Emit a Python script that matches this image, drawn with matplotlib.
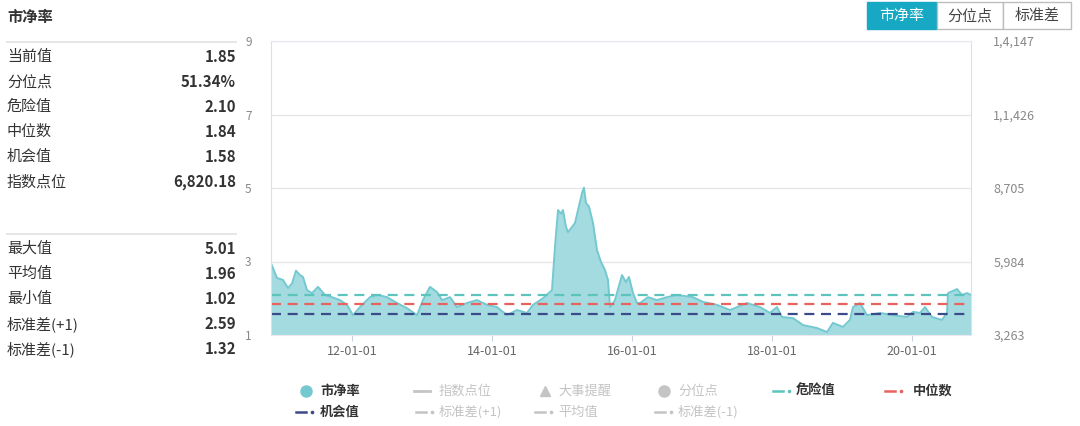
import matplotlib.pyplot as plt
import numpy as np
from matplotlib.lines import Line2D
from matplotlib.patches import Rectangle

plt.rcParams["font.family"] = ["Noto Sans CJK SC", "DejaVu Sans"]

W, H = 1080, 426

# PB series (decimal year, value)
years = [2010.843, 2010.929, 2011.014, 2011.086, 2011.143, 2011.2, 2011.257, 2011.3,
         2011.357, 2011.429, 2011.514, 2011.614, 2011.714, 2011.829, 2011.929, 2012.014,
         2012.114, 2012.257, 2012.371, 2012.5, 2012.643, 2012.786, 2012.929, 2013.014,
         2013.114, 2013.214, 2013.286, 2013.4, 2013.5, 2013.643, 2013.786, 2013.929,
         2014.071, 2014.214, 2014.357, 2014.5, 2014.586, 2014.729, 2014.857, 2014.9,
         2014.943, 2014.986, 2015.014, 2015.057, 2015.086, 2015.143, 2015.186, 2015.229,
         2015.286, 2015.314, 2015.343, 2015.386, 2015.443, 2015.5, 2015.557, 2015.614,
         2015.657, 2015.686, 2015.757, 2015.857, 2015.914, 2015.957, 2016.014, 2016.071,
         2016.114, 2016.229, 2016.357, 2016.5,
         2016.643, 2016.871, 2017.014, 2017.214, 2017.4, 2017.643, 2017.829, 2017.971,
         2018.071, 2018.143, 2018.3, 2018.443, 2018.643, 2018.786, 2018.871, 2019.014,
         2019.114, 2019.157, 2019.257, 2019.357, 2019.543, 2019.729, 2019.929, 2020.014,
         2020.114, 2020.186, 2020.286, 2020.429, 2020.5, 2020.514, 2020.643, 2020.714,
         2020.786, 2020.843]
pb = [2.95, 2.55, 2.50, 2.28, 2.40, 2.75, 2.63, 2.58,
      2.22, 2.14, 2.31, 2.09, 2.03, 1.95, 1.82, 1.54,
      1.76, 2.03, 2.09, 2.03, 1.87, 1.73, 1.54, 1.95,
      2.31, 2.17, 1.95, 2.03, 1.76, 1.87, 1.95, 1.82,
      1.76, 1.54, 1.68, 1.60, 1.82, 2.00, 2.22, 3.40,
      4.40, 4.30, 4.40, 3.94, 3.80, 3.94, 4.05, 4.40,
      4.86, 5.01, 4.59, 4.49, 4.05, 3.31, 2.99, 2.77,
      2.50, 1.76, 1.95, 2.63, 2.44, 2.58, 2.14, 1.87,
      1.87, 2.03, 1.95, 2.03,
      2.09, 2.03, 1.90, 1.82, 1.68, 1.87, 1.76, 1.60,
      1.76, 1.49, 1.46, 1.27, 1.19, 1.08, 1.33, 1.22,
      1.41, 1.76, 1.87, 1.54, 1.60, 1.54, 1.49, 1.63,
      1.60, 1.76, 1.49, 1.41, 1.60, 2.14, 2.25, 2.09,
      2.14, 2.09]

danger, median, chance = 2.10, 1.84, 1.58

left_ticks = [1, 3, 5, 7, 9]
right_ticks = [3263, 5984, 8705, 11426, 14147]
right_labels = ["3,263", "5,984", "8,705", "1,1,426", "1,4,147"]
x_ticks = [2012, 2014, 2016, 2018, 2020]
x_labels = ["12-01-01", "14-01-01", "16-01-01", "18-01-01", "20-01-01"]

stats_top = [("当前值", "1.85"), ("分位点", "51.34%"), ("危险值", "2.10"),
             ("中位数", "1.84"), ("机会值", "1.58"), ("指数点位", "6,820.18")]
stats_bottom = [("最大值", "5.01"), ("平均值", "1.96"), ("最小值", "1.02"),
                ("标准差(+1)", "2.59"), ("标准差(-1)", "1.32")]


def fx(x):
    return x / W


def fy(y):
    return 1 - y / H


fig = plt.figure(figsize=(W / 100, H / 100), dpi=100)

# ---- chart ----
ax = fig.add_axes([fx(271), fy(335), 700 / W, 294 / H])
ax.fill_between(years, pb, 0, color="#a3dbe0", lw=0)
ax.plot(years, pb, color="#74c9d1", lw=1.4)
ax.axhline(danger, color="#5cc4bc", lw=1.6, dashes=(4.5, 3))
ax.axhline(median, color="#e8635e", lw=1.6, dashes=(4.5, 3))
ax.axhline(chance, color="#3d4a8a", lw=1.6, dashes=(4.5, 3))

ax.set_xlim(2010.843, 2020.843)
ax.set_ylim(1, 9)
ax.set_yticks(left_ticks)
ax.set_xticks(x_ticks, x_labels)
for t in left_ticks[1:]:
    ax.axhline(t, color="#e6e6ea", lw=0.9, zorder=0)
ax.tick_params(axis="y", length=0, labelsize=8.5, labelcolor="#888888", pad=14)
ax.tick_params(axis="x", length=4, color="#c8d0e0", labelsize=9,
               labelcolor="#666666", pad=3)
for side in ["top", "bottom"]:
    ax.spines[side].set_color("#e8e8ee")
for side in ["left", "right"]:
    ax.spines[side].set_color("#d8e0ee")

ax2 = ax.twinx()
ax2.set_ylim(3263, 14147)
ax2.set_yticks(right_ticks, right_labels)
ax2.tick_params(axis="y", length=0, labelsize=9, labelcolor="#888888", pad=16)
for s in ax2.spines.values():
    s.set_visible(False)

# ---- left stats panel ----
fig.text(fx(7), fy(17), "市净率", fontsize=11, fontweight="bold",
         color="#333333", va="center")
for ys in (42, 234):
    fig.add_artist(Line2D([fx(7), fx(236)], [fy(ys), fy(ys)], color="#e2e2e2", lw=1.2))
for i, (lab, val) in enumerate(stats_top):
    y = 57 + i * 25
    fig.text(fx(7), fy(y), lab, fontsize=10.8, color="#333333", va="center")
    fig.text(fx(236), fy(y), val, fontsize=10.8, color="#333333", va="center",
             ha="right", fontweight="bold")
for i, (lab, val) in enumerate(stats_bottom):
    y = 249 + i * 25
    fig.text(fx(7), fy(y), lab, fontsize=10.8, color="#333333", va="center")
    fig.text(fx(236), fy(y), val, fontsize=10.8, color="#333333", va="center",
             ha="right", fontweight="bold")

# ---- buttons ----
buttons = [("市净率", 867, 937, True), ("分位点", 937, 1003, False), ("标准差", 1003, 1071, False)]
for lab, x0, x1, on in buttons:
    fig.add_artist(Rectangle((fx(x0), fy(29)), fx(x1 - x0), 27 / H,
                             facecolor="#17a8c4" if on else "white",
                             edgecolor="#17a8c4" if on else "#bdbdbd", lw=1))
    fig.text(fx((x0 + x1) / 2), fy(16), lab, fontsize=10.8, ha="center", va="center",
             color="white" if on else "#444444")

# ---- legend ----
grey = "#c4c4c4"
row1, row2 = 391, 412


def dash_dot(x, y, color):
    fig.add_artist(Line2D([fx(x), fx(x + 10)], [fy(y), fy(y)], color=color, lw=1.8))
    fig.add_artist(Line2D([fx(x + 16)], [fy(y)], color=color, marker="o", ms=1.6, lw=0))


fig.add_artist(Line2D([fx(306)], [fy(row1)], marker="o", ms=8, color="#74c9d1", lw=0))
fig.text(fx(320), fy(row1), "市净率", fontsize=9.5, fontweight="bold", color="#333333", va="center")
fig.add_artist(Line2D([fx(414), fx(430)], [fy(row1), fy(row1)], color=grey, lw=2))
fig.text(fx(439), fy(row1), "指数点位", fontsize=9.5, color=grey, va="center")
fig.add_artist(Line2D([fx(545)], [fy(row1)], marker="^", ms=7, color=grey, lw=0))
fig.text(fx(558), fy(row1), "大事提醒", fontsize=9.5, color=grey, va="center")
fig.add_artist(Line2D([fx(664)], [fy(row1)], marker="o", ms=8, color=grey, lw=0))
fig.text(fx(678), fy(row1), "分位点", fontsize=9.5, color=grey, va="center")
dash_dot(773, row1, "#5cc4bc")
fig.text(fx(796), fy(row1), "危险值", fontsize=9.5, fontweight="bold", color="#333333", va="center")
dash_dot(885, row1, "#e8635e")
fig.text(fx(913), fy(row1), "中位数", fontsize=9.5, fontweight="bold", color="#333333", va="center")

dash_dot(296, row2, "#3d4a8a")
fig.text(fx(320), fy(row2), "机会值", fontsize=9.5, fontweight="bold", color="#333333", va="center")
dash_dot(416, row2, grey)
fig.text(fx(439), fy(row2), "标准差(+1)", fontsize=9.5, color=grey, va="center")
dash_dot(535, row2, grey)
fig.text(fx(558), fy(row2), "平均值", fontsize=9.5, color=grey, va="center")
dash_dot(655, row2, grey)
fig.text(fx(678), fy(row2), "标准差(-1)", fontsize=9.5, color=grey, va="center")

fig.savefig("out.png", dpi=100)
